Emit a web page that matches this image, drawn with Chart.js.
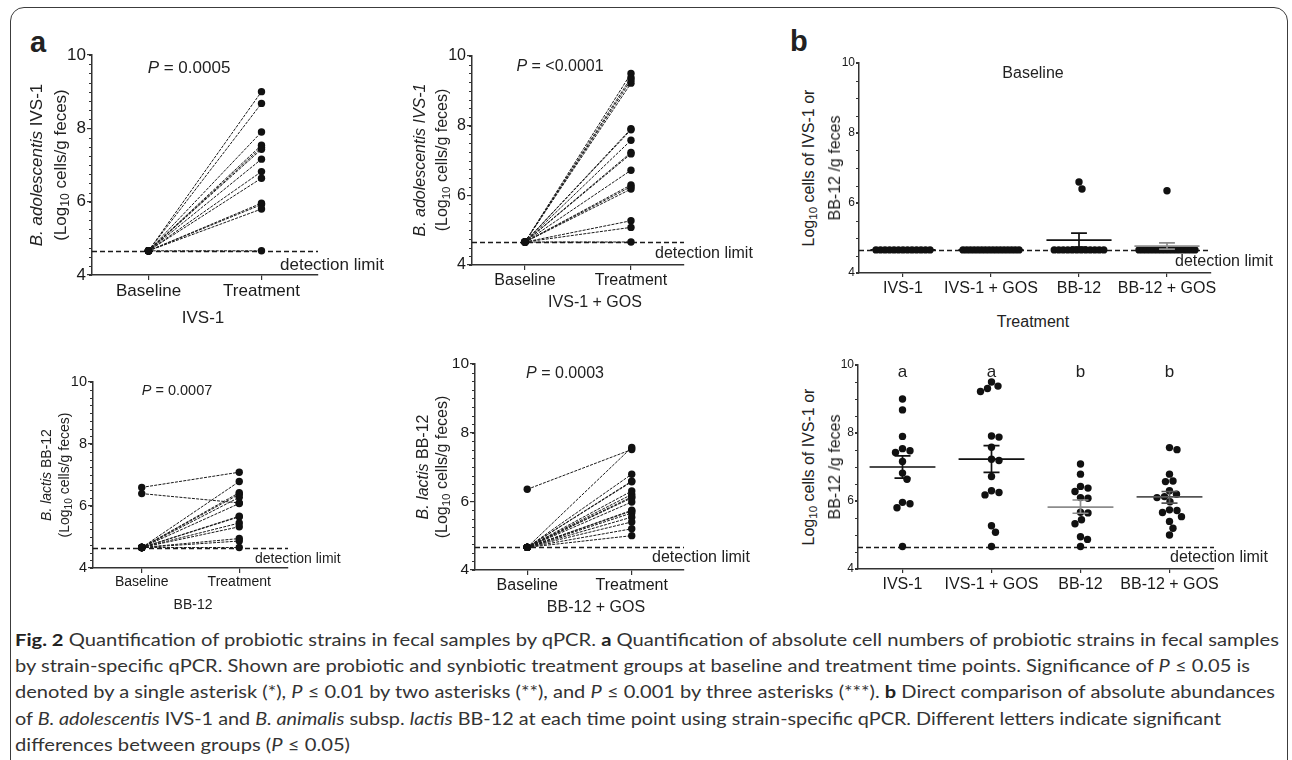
<!DOCTYPE html>
<html><head><meta charset="utf-8">
<script src="https://cdn.jsdelivr.net/npm/chart.js@4.4.1/dist/chart.umd.min.js"></script>
<style>
html,body{margin:0;padding:0;background:#fff;}
body{width:1292px;height:760px;position:relative;overflow:hidden;font-family:'Liberation Sans',Arial,sans-serif;color:#222;}
canvas{position:absolute;}
.t{position:absolute;white-space:nowrap;line-height:1;}
.t sub{font-size:0.72em;vertical-align:-0.28em;line-height:0;}
#frame{position:absolute;left:10px;top:7px;width:1278px;height:790px;border:1.6px solid #3c3c3c;border-radius:14px;box-sizing:border-box;}
.cap{position:absolute;left:15px;white-space:nowrap;font-family:Lato,'Noto Sans',sans-serif;font-size:17.5px;color:#333;line-height:1;transform-origin:0 50%;}
.cap b{color:#222;}
</style></head><body>
<div id="frame"></div>
<script>
// ---------------- data ----------------
const timeCats = ['Baseline', 'Treatment'];
const groupCats = ['IVS-1', 'IVS-1 + GOS', 'BB-12', 'BB-12 + GOS'];
const yTicks = [4, 6, 8, 10];
const detectionLimit = 4.66;

const ivs1Base = [4.66, 4.66, 4.66, 4.66, 4.66, 4.66, 4.66, 4.66, 4.66, 4.66, 4.66, 4.66, 4.66];
const ivs1Treat = [9.0, 8.68, 7.9, 7.54, 7.48, 7.43, 7.16, 6.82, 6.64, 5.96, 5.92, 5.8, 4.66];
const ivs1GosBase = [4.66, 4.66, 4.66, 4.66, 4.66, 4.66, 4.66, 4.66, 4.66, 4.66, 4.66, 4.66, 4.66, 4.66, 4.66, 4.66];
const ivs1GosTreat = [9.5, 9.38, 9.31, 9.22, 7.91, 7.88, 7.58, 7.23, 7.19, 6.72, 6.3, 6.25, 6.18, 5.27, 5.08, 4.66];
const bb12Base = [6.6, 6.4, 4.66, 4.66, 4.66, 4.66, 4.66, 4.66, 4.66, 4.66, 4.66, 4.66, 4.66, 4.66];
const bb12Treat = [7.09, 6.1, 6.79, 6.43, 6.38, 6.28, 6.08, 5.67, 5.65, 5.45, 5.33, 4.95, 4.87, 4.66];
const bb12GosBase = [6.35, 4.66, 4.66, 4.66, 4.66, 4.66, 4.66, 4.66, 4.66, 4.66, 4.66, 4.66, 4.66, 4.66, 4.66, 4.66, 4.66];
const bb12GosTreat = [7.51, 7.57, 6.79, 6.59, 6.57, 6.3, 6.2, 6.13, 6.1, 5.98, 5.74, 5.72, 5.66, 5.54, 5.4, 5.2, 5.0];

const baseMean = [4.66, 4.66, 4.94, 4.77];
const baseSemLo = [4.66, 4.66, 4.74, 4.68];
const baseSemHi = [4.66, 4.66, 5.14, 4.86];
const treatMean = [7.0, 7.23, 5.82, 6.12];
const treatSemLo = [6.67, 6.84, 5.64, 5.94];
const treatSemHi = [7.33, 7.63, 6.03, 6.28];
const groupLetters = ['a', 'a', 'b', 'b'];
const pValues = ['0.0005', '&lt;0.0001', '0.0007', '0.0003'];

// ---------------- helpers ----------------
const FF = "'Liberation Sans', Arial, sans-serif";
function T(html, x, yb, fs, o = {}) {
  const e = document.createElement('div');
  e.className = 't'; e.innerHTML = html;
  e.style.fontSize = fs + 'px';
  e.style.top = (yb - 0.8465 * fs) + 'px';
  e.style.left = x + 'px';
  if (o.align !== 'left') e.style.transform = 'translateX(-50%)';
  if (o.bold) e.style.fontWeight = 'bold';
  if (o.color) e.style.color = o.color;
  document.body.appendChild(e);
  return e;
}
function R(html, cx, cy, fs) {
  const e = document.createElement('div');
  e.className = 't'; e.innerHTML = html;
  e.style.fontSize = fs + 'px';
  e.style.left = cx + 'px'; e.style.top = cy + 'px';
  e.style.transform = 'translate(-50%,-50%) rotate(-90deg)';
  document.body.appendChild(e);
  return e;
}

const minorTicks = {
  id: 'minorTicks',
  afterDraw(chart, args, opts) {
    const y = chart.scales.y, ctx = chart.ctx;
    ctx.save(); ctx.strokeStyle = '#333'; ctx.lineWidth = 1;
    for (let v = y.min; v <= y.max + 1e-9; v += opts.step) {
      const p = Math.round(y.getPixelForValue(v)) + 0.5;
      ctx.beginPath(); ctx.moveTo(y.right - opts.len, p); ctx.lineTo(y.right, p); ctx.stroke();
    }
    ctx.restore();
  }
};
const detLine = {
  id: 'detLine',
  beforeDatasetsDraw(chart) {
    const y = chart.scales.y, ca = chart.chartArea, ctx = chart.ctx;
    const p = Math.round(y.getPixelForValue(detectionLimit)) + 0.5;
    ctx.save(); ctx.strokeStyle = '#1a1a1a'; ctx.lineWidth = 1.4; ctx.setLineDash([5, 3]);
    ctx.beginPath(); ctx.moveTo(ca.left, p); ctx.lineTo(ca.right, p); ctx.stroke();
    ctx.restore();
  }
};

function makeChart(cfg) {
  const yw = cfg.yw, top = 16, right = 14, xh = 40;
  const c = document.createElement('canvas');
  const W = cfg.R - cfg.L + yw + right, H = cfg.B - cfg.T + top + xh;
  c.width = W; c.height = H;
  c.style.left = (cfg.L - yw) + 'px'; c.style.top = (cfg.T - top) + 'px';
  c.style.width = W + 'px'; c.style.height = H + 'px';
  document.body.appendChild(c);
  const cats = cfg.cats;
  const axisGrid = (tl) => ({ drawOnChartArea: false, drawTicks: true, tickLength: tl, color: '#333', lineWidth: 1.2 });
  const border = { color: '#333', width: 1.5 };
  return new Chart(c, {
    type: 'scatter',
    data: { datasets: cfg.datasets },
    options: {
      responsive: false, animation: false, devicePixelRatio: 1, events: [],
      layout: { padding: { top, right, left: 0, bottom: 0 } },
      plugins: { legend: { display: false }, tooltip: { enabled: false }, minorTicks: { step: cfg.minor, len: 3 } },
      scales: {
        x: {
          type: 'linear', min: -0.5, max: cats.length - 0.5,
          afterBuildTicks: a => { a.ticks = cats.map((_, i) => ({ value: i })); },
          afterFit: s => { s.height = xh; },
          ticks: { callback: v => cats[v] ?? '', autoSkip: false, maxRotation: 0, color: '#1a1a1a', padding: cfg.xpad, font: { family: FF, size: cfg.xfs } },
          grid: axisGrid(cfg.xtl), border
        },
        y: {
          type: 'linear', min: 4, max: 10,
          afterBuildTicks: a => { a.ticks = yTicks.map(v => ({ value: v })); },
          afterFit: s => { s.width = yw; },
          ticks: { color: '#1a1a1a', padding: cfg.ypad, font: { family: FF, size: cfg.yfs } },
          grid: axisGrid(cfg.ytl), border
        }
      }
    },
    plugins: [minorTicks, detLine]
  });
}

function pairLines(base, treat) {
  const d = [];
  base.forEach((b, i) => { d.push({ x: 0, y: b }, { x: 1, y: treat[i] }, { x: 0.5, y: null }); });
  return d;
}
function makeA(cfg, base, treat) {
  const pts = [...base.map(v => ({ x: 0, y: v })), ...treat.map(v => ({ x: 1, y: v }))];
  const ds = [
    { data: pts, pointRadius: 3.7, pointBackgroundColor: '#111', pointBorderColor: '#111', pointBorderWidth: 0, order: 1 },
    { data: pairLines(base, treat), showLine: true, borderColor: '#1a1a1a', borderWidth: 1, borderDash: [3, 1.2], pointRadius: 0, order: 2 }
  ];
  return makeChart({ ...cfg, cats: timeCats, datasets: ds });
}

function swarm(vals, ky, d, rowW) {
  const n = vals.length, off = new Array(n).fill(null), pts = [];
  const byVal = {};
  vals.forEach((v, i) => { const k = v.toFixed(2); (byVal[k] = byVal[k] || []).push(i); });
  Object.values(byVal).forEach(g => {
    if (g.length >= 5) {
      const w = Math.min((g.length - 1) * 4.5, rowW);
      g.forEach((i, j) => { off[i] = -w / 2 + j * w / (g.length - 1); pts.push([off[i], vals[i] * ky]); });
    }
  });
  const order = vals.map((v, i) => i).filter(i => off[i] === null).sort((a, b) => vals[b] - vals[a]);
  order.forEach(i => {
    const py = vals[i] * ky;
    for (let s = 0; s < 400; s++) {
      const c = (s % 2 ? 1 : -1) * Math.ceil(s / 2) * 0.5;
      if (pts.every(p => Math.hypot(p[0] - c, p[1] - py) >= d)) { off[i] = c; pts.push([c, py]); break; }
    }
  });
  return off;
}
function errBars(i, m, lo, hi) {
  const w = 0.37, c = 0.09;
  return [{ x: i - w, y: m }, { x: i + w, y: m }, { x: i, y: null },
          { x: i, y: lo }, { x: i, y: hi }, { x: i, y: null },
          { x: i - c, y: hi }, { x: i + c, y: hi }, { x: i, y: null },
          { x: i - c, y: lo }, { x: i + c, y: lo }];
}
function makeB(cfg, groupVals, means, los, his, colors) {
  const pts = [];
  groupVals.forEach((vals, i) => vals.forEach(v => pts.push({ x: i, y: v })));
  const ds = [
    ...means.map((m, i) => ({ data: errBars(i, m, los[i], his[i]), showLine: true, borderColor: colors[i], borderWidth: 1.7, pointRadius: 0, order: 0 })),
    { data: pts, pointRadius: 3.7, pointBackgroundColor: '#111', pointBorderColor: '#111', pointBorderWidth: 0, order: 1 }
  ];
  const ch = makeChart({ ...cfg, cats: groupCats, datasets: ds });
  const ky = Math.abs(ch.scales.y.getPixelForValue(1) - ch.scales.y.getPixelForValue(0));
  const kx = ch.scales.x.getPixelForValue(1) - ch.scales.x.getPixelForValue(0);
  const np = [];
  groupVals.forEach((vals, i) => {
    const off = swarm(vals, ky, 7.5, 56);
    vals.forEach((v, j) => np.push({ x: i + off[j] / kx, y: v }));
  });
  ch.data.datasets[means.length].data = np;
  ch.update('none');
  return ch;
}

// ---------------- panel a ----------------
T('<b>a</b>', 30, 53, 29, { align: 'left' });
makeA({ L: 92, T: 55, R: 318, B: 275, yw: 50, xfs: 17, yfs: 17, xpad: 1, ypad: 1, xtl: 5, ytl: 5, minor: 0.25 }, ivs1Base, ivs1Treat);
T('<i>P</i> = ' + pValues[0], 189, 73, 17);
R('<i>B. adolescentis</i> IVS-1', 36, 165, 17);
R('(Log<sub>10</sub> cells/g feces)', 60, 165, 17);
T('detection limit', 280, 270, 17, { align: 'left' });
T('IVS-1', 203, 323, 17);

makeA({ L: 472, T: 56, R: 684, B: 265, yw: 50, xfs: 16, yfs: 16, xpad: 1, ypad: 1, xtl: 5, ytl: 5, minor: 0.25 }, ivs1GosBase, ivs1GosTreat);
T('<i>P</i> = ' + pValues[1], 560, 72, 16);
R('<i>B. adolescentis IVS-1</i>', 420, 160, 16);
R('(Log<sub>10</sub> cells/g feces)', 442, 160, 16);
T('detection limit', 655, 259, 16, { align: 'left' });
T('IVS-1 + GOS', 595, 308, 16);

makeA({ L: 93, T: 382, R: 288, B: 568, yw: 50, xfs: 14, yfs: 14.5, xpad: 1, ypad: 1, xtl: 5, ytl: 5, minor: 0.25 }, bb12Base, bb12Treat);
T('<i>P</i> = ' + pValues[2], 177, 395, 14.5);
R('<i>B. lactis</i> BB-12', 46, 475, 14);
R('(Log<sub>10</sub> cells/g feces)', 64, 475, 14);
T('detection limit', 255, 563, 14, { align: 'left' });
T('BB-12', 193, 609, 14);

makeA({ L: 475, T: 364, R: 684, B: 570, yw: 50, xfs: 16, yfs: 15.5, xpad: 1, ypad: 1, xtl: 5, ytl: 5, minor: 0.25 }, bb12GosBase, bb12GosTreat);
T('<i>P</i> = ' + pValues[3], 565, 379, 16);
R('<i>B. lactis</i> BB-12', 423, 467, 16);
R('(Log<sub>10</sub> cells/g feces)', 442, 467, 16);
T('detection limit', 652, 563, 16, { align: 'left' });
T('BB-12 + GOS', 596, 613, 16);

// ---------------- panel b ----------------
T('<b>b</b>', 790, 52, 29, { align: 'left' });
makeB({ L: 859, T: 63, R: 1211, B: 273, yw: 36, xfs: 16, yfs: 12, xpad: 2, ypad: 1, xtl: 4, ytl: 3, minor: 0.5 },
  [ivs1Base, ivs1GosBase, bb12Base, bb12GosBase], baseMean, baseSemLo, baseSemHi, ['#111', '#111', '#111', '#8c8c8c']);
T('Baseline', 1033, 79, 16);
R('Log<sub>10</sub> cells of IVS-1 or', 809, 168, 16);
R('BB-12 /g feces', 835, 168, 16);
T('detection limit', 1175, 267, 16, { align: 'left' });

const chB2 = makeB({ L: 858, T: 365, R: 1214, B: 569, yw: 36, xfs: 16, yfs: 12, xpad: 2, ypad: 1, xtl: 4, ytl: 3, minor: 0.5 },
  [ivs1Treat, ivs1GosTreat, bb12Treat, bb12GosTreat], treatMean, treatSemLo, treatSemHi, ['#111', '#111', '#8c8c8c', '#555']);
T('Treatment', 1033, 328, 16);
R('Log<sub>10</sub> cells of IVS-1 or', 809, 467, 16);
R('BB-12 /g feces', 835, 467, 16);
T('detection limit', 1170, 563, 16, { align: 'left' });
groupLetters.forEach((l, i) => {
  T(l, chB2.canvas.offsetLeft + chB2.scales.x.getPixelForValue(i), 377, 17);
});

// ---------------- caption ----------------
const capLines = [
  ['<b>Fig. 2</b> Quantification of probiotic strains in fecal samples by qPCR. <b>a</b> Quantification of absolute cell numbers of probiotic strains in fecal samples', 640, 1264],
  ['by strain-specific qPCR. Shown are probiotic and synbiotic treatment groups at baseline and treatment time points. Significance of <i>P</i> ≤ 0.05 is', 666, 1235],
  ['denoted by a single asterisk (*), <i>P</i> ≤ 0.01 by two asterisks (**), and <i>P</i> ≤ 0.001 by three asterisks (***). <b>b</b> Direct comparison of absolute abundances', 692, 1260],
  ['of <i>B. adolescentis</i> IVS-1 and <i>B. animalis</i> subsp. <i>lactis</i> BB-12 at each time point using strain-specific qPCR. Different letters indicate significant', 719, 1206],
  ['differences between groups (<i>P</i> ≤ 0.05)', 745, 335]
];
const capEls = capLines.map(([html, cy]) => {
  const e = document.createElement('div');
  e.className = 'cap'; e.innerHTML = html;
  e.style.top = (cy - 8.75) + 'px';
  document.body.appendChild(e);
  return e;
});
function fitCaption() {
  capEls.forEach((e, i) => {
    e.style.transform = 'none';
    const w = e.getBoundingClientRect().width;
    e.style.transform = 'scaleX(' + (capLines[i][2] / w) + ')';
  });
}
fitCaption();
if (document.fonts && document.fonts.ready) document.fonts.ready.then(fitCaption);
</script>
</body></html>
